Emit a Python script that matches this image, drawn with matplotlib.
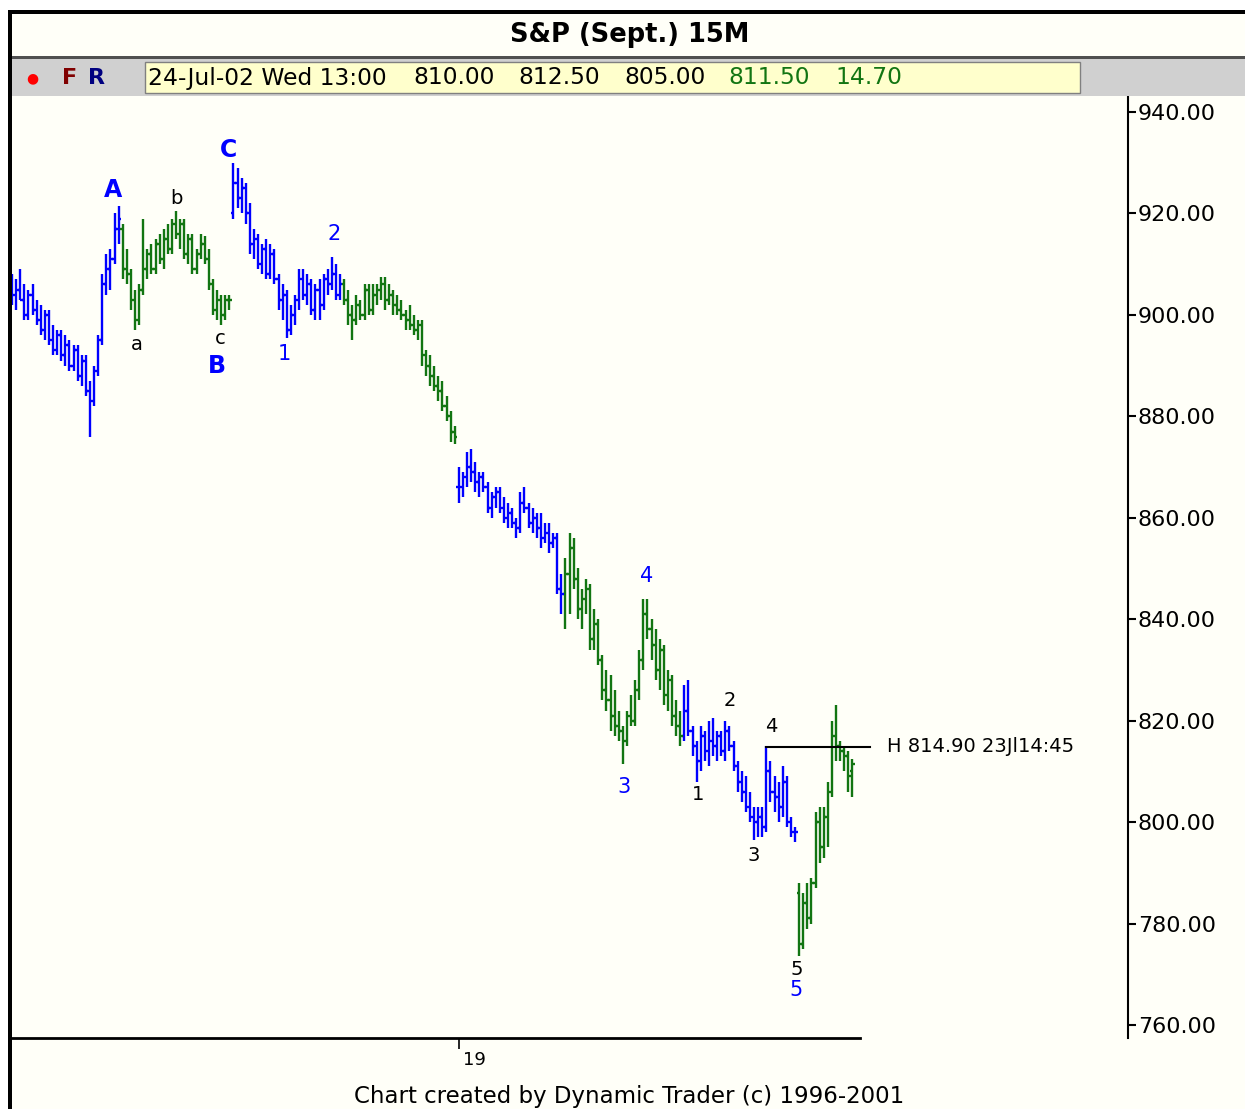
import matplotlib
matplotlib.use('Agg')
import matplotlib.pyplot as plt
from matplotlib.patches import Rectangle
import numpy as np

# S&P Sept futures, 15 minute bars, Jul 2002
opens = [906, 904, 905, 903, 900, 904, 901, 899, 897, 900, 895, 893, 896, 892, 894, 890, 893, 888, 891, 885,
         883, 889, 895, 906, 909, 911, 917,
         917, 909, 908, 903, 899, 905, 909, 912, 909, 914, 911, 915, 913, 918, 916, 918, 912, 915, 909, 912,
         914, 911, 906, 901, 903, 900, 903,
         920, 926, 923, 925, 920, 914, 915, 910, 913, 908, 912, 907, 903, 904, 897, 900, 903, 907, 904, 906,
         901, 905, 902, 907, 906, 908, 904,
         906, 903, 900, 899, 902, 900, 905, 901, 904, 905, 906, 903, 904, 902, 901, 900, 899, 898, 897, 898,
         892, 890, 888, 886, 885, 882, 880, 877,
         866, 866, 868, 870, 869, 867, 868, 866, 862, 864, 865, 862, 860, 861, 859, 858, 863, 862, 859, 860,
         858, 856, 857, 855, 856, 846,
         845, 849, 854, 848, 842, 844, 846, 836, 839, 832, 826, 824, 821, 819, 818, 816, 821, 820, 826, 832,
         841, 838, 835, 830, 834, 825, 828, 821, 819,
         817, 822, 818, 815, 812, 817, 814, 816, 815, 817, 814, 818, 815, 811, 808, 806, 803, 801, 800, 801,
         799, 810, 806, 805, 803, 808, 800, 798,
         786, 776, 784, 781, 788, 800, 795, 801, 806, 817, 815, 814, 813, 810]
highs = [908, 907, 909, 906, 905, 906, 903, 902, 901, 901, 898, 897, 897, 896, 895, 894, 894, 892, 892, 887,
         890, 896, 908, 912, 913, 920, 921.5,
         918, 913, 909, 905, 906, 919, 913, 914, 915, 916, 917, 918, 919, 920.5, 919, 919, 916, 916, 913, 916,
         915.5, 913, 907, 905, 904, 904, 904,
         930, 929, 927, 926, 922, 917, 916, 914, 915, 914, 913, 908, 906, 905, 902, 904, 909, 909, 908, 907,
         906, 907, 908, 909, 911.5, 910, 908,
         907, 905, 902, 904, 903, 906, 906, 906, 906, 907.5, 907.5, 906, 905, 904, 903, 901, 902, 900, 899, 899,
         893, 892, 890, 888, 887, 884, 881, 878,
         870, 869, 873, 873.5, 871, 869, 869, 867, 865, 866, 866, 864, 863, 862, 860, 865, 866, 863, 862, 861,
         861, 859, 859, 857, 857, 849,
         852, 857, 856, 850, 846, 848, 847, 842, 840, 833, 830, 829, 826, 822, 819, 822, 825, 828, 834, 844,
         844, 840, 838, 836, 835, 830, 829, 824, 822,
         827, 828, 819, 816, 819, 818, 820, 820.5, 818, 818, 820, 819, 816, 812, 810, 809, 806, 803, 803, 803,
         815, 812, 809, 808, 811, 809, 801, 799,
         788, 786, 788, 789, 802, 803, 803, 808, 820, 823, 816, 815, 814, 812.5]
lows = [902, 901, 903, 899, 899, 900, 898, 896, 895, 894, 892, 892, 891, 890, 889, 889, 887, 886, 884, 876,
        882, 888, 894, 904, 905, 910, 914,
        907, 906, 901, 897, 898, 904, 907, 908, 908, 910, 909, 912, 912, 915, 913, 911, 910, 908, 908, 911,
        910, 905, 900, 899, 898, 899, 901,
        919, 921, 920, 918, 912, 911, 909, 908, 907, 907, 906, 901, 899, 895.5, 896, 898, 901, 903, 902, 900,
        899, 899, 901, 904, 905, 903, 903,
        902, 898, 895, 898, 899, 899, 900, 900, 902, 903, 901, 902, 900, 900, 899, 897, 897, 896, 895, 890,
        888, 886, 885, 883, 881, 879, 875, 874.5,
        863, 864, 866, 867, 865, 864, 865, 861, 860, 862, 861, 859, 858, 858, 856, 857, 861, 858, 857, 856,
        854, 855, 853, 854, 845, 841,
        838, 841, 846, 840, 838, 841, 834, 834, 831, 824, 822, 818, 817, 816, 811.5, 815, 819, 819, 824, 830,
        836, 832, 828, 826, 823, 822, 819, 817, 815,
        816, 817, 813, 808, 810, 812, 811, 813, 812, 813, 812, 814, 810, 806, 804, 802, 800, 796.5, 797, 797,
        798, 804, 802, 800, 801, 799, 797, 796,
        773.5, 775, 779, 780, 787, 792, 793, 795, 805, 812, 812, 810, 806, 805]
closes = [904, 905, 903, 900, 904, 901, 899, 897, 900, 895, 893, 896, 892, 894, 890, 893, 888, 891, 885, 883,
          889, 895, 906, 909, 911, 917, 919,
          909, 908, 903, 899, 905, 909, 912, 909, 914, 911, 915, 913, 918, 916, 918, 912, 915, 909, 912, 914,
          911, 906, 901, 903, 900, 903, 903,
          926, 923, 925, 920, 914, 915, 910, 913, 908, 912, 907, 903, 904, 897, 900, 903, 907, 904, 906, 901,
          905, 902, 907, 906, 908, 904, 906,
          903, 900, 899, 902, 900, 905, 901, 904, 905, 906, 903, 904, 902, 901, 900, 899, 898, 897, 898, 892,
          890, 888, 886, 885, 882, 880, 877, 876,
          866, 868, 870, 869, 867, 868, 866, 862, 864, 865, 862, 860, 861, 859, 858, 863, 862, 859, 860, 858,
          856, 857, 855, 856, 846, 845,
          849, 854, 848, 842, 844, 846, 836, 839, 832, 826, 824, 821, 819, 818, 816, 821, 820, 826, 832, 841,
          838, 835, 830, 834, 825, 828, 821, 819, 817,
          822, 818, 815, 812, 817, 814, 816, 815, 817, 814, 818, 815, 811, 808, 806, 803, 801, 800, 801, 799,
          810, 806, 805, 803, 808, 800, 798, 798,
          776, 784, 781, 788, 800, 795, 801, 806, 817, 815, 814, 813, 809, 811.5]

# first bar of each wave leg (legs alternate blue / green)
leg_starts = [0, 27, 54, 81, 109, 135, 164, 192]
leg_colors = ['#0000ff', '#127512']

# wave labels: (text, bar, price, colour, size, bold)
wave_labels = [
    ('A', 24.6, 924.6, 'blue', 17, True),
    ('B', 50.0, 889.9, 'blue', 17, True),
    ('C', 52.9, 932.5, 'blue', 17, True),
    ('a', 30.5, 894.1, 'black', 14, False),
    ('b', 40.2, 923.0, 'black', 14, False),
    ('c', 50.7, 895.4, 'black', 14, False),
    ('1', 66.3, 892.3, 'blue', 15, False),
    ('2', 78.5, 916.0, 'blue', 15, False),
    ('3', 149.3, 806.9, 'blue', 15, False),
    ('4', 154.9, 848.5, 'blue', 15, False),
    ('5', 191.2, 766.9, 'blue', 15, False),
    ('1', 167.3, 805.5, 'black', 14, False),
    ('2', 175.1, 823.9, 'black', 14, False),
    ('3', 181.0, 793.5, 'black', 14, False),
    ('4', 185.1, 818.9, 'black', 14, False),
    ('5', 191.5, 771.0, 'black', 14, False),
]

y_ticks = [760, 780, 800, 820, 840, 860, 880, 900, 920, 940]
high_mark = 814.90
high_bar = 184

CREAM = '#fffff8'
W, H = 1245, 1109


def fx(x):
    return x / W


def fy(y):
    return 1 - y / H


fig = plt.figure(figsize=(12.45, 11.09), dpi=100, facecolor=CREAM)

# window frame and header
def box(x0, y0, x1, y1, color, **kw):
    fig.patches.append(Rectangle((fx(x0), fy(y1)), fx(x1) - fx(x0), fy(y0) - fy(y1),
                                 transform=fig.transFigure, facecolor=color, zorder=0, **kw))

box(0, 0, 8, H, 'white', edgecolor='none')
box(0, 0, W, 10, 'white', edgecolor='none')
box(8, 10, 12, H, 'black', edgecolor='none')
box(8, 10, W, 14, 'black', edgecolor='none')
box(12, 56, W, 59, '#505050', edgecolor='none')
box(12, 59, W, 96, '#d0d0d0', edgecolor='none')
box(145, 62, 1080, 93, '#ffffcc', edgecolor='#808080', linewidth=1)

fig.text(fx(630), fy(35), 'S&P (Sept.) 15M', ha='center', va='center', fontsize=18.5, fontweight='bold')
fig.text(fx(32), fy(78), '\u25cf', color='red', ha='center', va='center', fontsize=10)
fig.text(fx(70), fy(78), 'F', color='#800000', ha='center', va='center', fontsize=16, fontweight='bold')
fig.text(fx(97), fy(78), 'R', color='#000080', ha='center', va='center', fontsize=16, fontweight='bold')
info = [('24-Jul-02 Wed 13:00', 148, 'black'), ('810.00', 413, 'black'), ('812.50', 518, 'black'),
        ('805.00', 624, 'black'), ('811.50', 728, '#127512'), ('14.70', 835, '#127512')]
for txt, x0, col in info:
    fig.text(fx(x0), fy(78), txt, color=col, ha='left', va='center', fontsize=16.8)

# price chart
ax = fig.add_axes([fx(10), fy(1038), fx(1128) - fx(10), fy(97) - fy(1038)])
ax.set_facecolor(CREAM)
ax.set_xlim(-0.49, 272.2)
ax.set_ylim(757.43, 942.96)

n = len(closes)
x = np.arange(n)
bounds = leg_starts + [n]
cols = []
for k in range(len(leg_starts)):
    cols += [leg_colors[k % 2]] * (bounds[k + 1] - bounds[k])

ax.vlines(x, lows, highs, colors=cols, lw=1.7)
ax.hlines(opens, x - 0.6, x, colors=cols, lw=1.7)
ax.hlines(closes, x, x + 0.6, colors=cols, lw=1.7)

for txt, bx, by, col, fs, bold in wave_labels:
    ax.text(bx, by, txt, color=col, fontsize=fs, ha='center', va='center',
            fontweight='bold' if bold else 'normal')

ax.plot([high_bar, 209.3], [high_mark, high_mark], color='black', lw=1.5)
ax.text(213.4, high_mark, 'H 814.90 23Jl14:45', fontsize=14, ha='left', va='center')

for s in ['top', 'left', 'bottom']:
    ax.spines[s].set_visible(False)
ax.spines['right'].set_linewidth(1.5)
ax.yaxis.tick_right()
ax.set_yticks(y_ticks)
ax.set_yticklabels([f'{v:.2f}' for v in y_ticks])
ax.tick_params(axis='y', direction='out', length=6, width=1.5, pad=1, labelsize=16)

ax.plot([-0.49, 206.8], [757.43, 757.43], color='black', lw=2, clip_on=False)
ax.set_xticks([109])
ax.set_xticklabels([''])
ax.tick_params(axis='x', direction='out', length=8, width=1.2)
ax.text(112.9, 753.1, '19', fontsize=13, ha='center', va='center')

fig.text(fx(629), fy(1097), 'Chart created by Dynamic Trader (c) 1996-2001', ha='center', va='center', fontsize=16.5)

fig.savefig('out.png', dpi=100, facecolor=fig.get_facecolor())
